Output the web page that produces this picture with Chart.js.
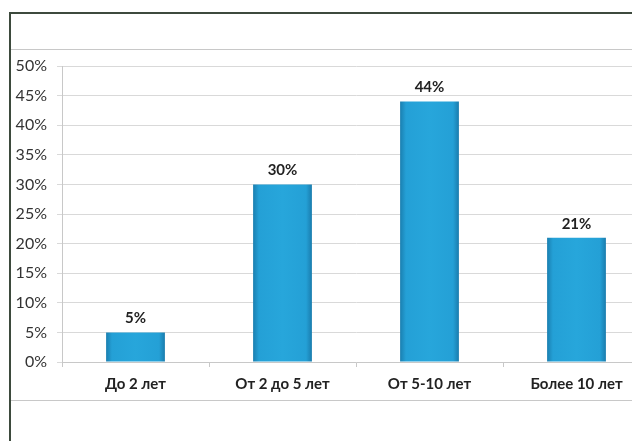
<!DOCTYPE html>
<html>
<head>
<meta charset="utf-8">
<script src="https://cdn.jsdelivr.net/npm/chart.js@4"></script>
<style>
  html, body { margin: 0; padding: 0; background: #fff; overflow: hidden; }
  #wrap { position: absolute; left: 0; top: 0; width: 660px; height: 441px; }
</style>
</head>
<body>
<div id="wrap"><canvas id="chart"></canvas></div>
<script>
// Стаж работы
var categories = ['До 2 лет', 'От 2 до 5 лет', 'От 5-10 лет', 'Более 10 лет'];
var values = [5, 30, 44, 21];
var yTicks = [0, 5, 10, 15, 20, 25, 30, 35, 40, 45, 50];

// рамка вокруг диаграммы
var framePlugin = {
    id: 'frame',
    beforeDraw: function(chart) {
        var ctx = chart.ctx;
        ctx.save();
        ctx.fillStyle = '#fff';
        ctx.fillRect(0, 0, chart.width, chart.height);
        ctx.lineWidth = 1;
        ctx.strokeStyle = '#c8c8c8';
        ctx.beginPath();
        ctx.moveTo(10, 49.5); ctx.lineTo(chart.width, 49.5);
        ctx.moveTo(10, 400.5); ctx.lineTo(chart.width, 400.5);
        ctx.stroke();
        ctx.lineWidth = 2;
        ctx.strokeStyle = '#3d4a3d';
        ctx.beginPath();
        ctx.moveTo(10, 13); ctx.lineTo(chart.width, 13);
        ctx.moveTo(10, 12); ctx.lineTo(10, chart.height);
        ctx.stroke();
        ctx.restore();
    }
};

// подписи значений над столбцами
var labelPlugin = {
    id: 'valueLabels',
    afterDatasetsDraw: function(chart) {
        var ctx = chart.ctx;
        var meta = chart.getDatasetMeta(0);
        ctx.save();
        ctx.font = 'bold 15px Lato';
        ctx.fillStyle = '#222';
        ctx.textAlign = 'center';
        ctx.textBaseline = 'middle';
        meta.data.forEach(function(bar, i) {
            ctx.fillText(values[i] + '%', bar.x, bar.y - 14);
        });
        ctx.restore();
    }
};

// градиент столбца по ширине
function barGradient(context) {
    var chart = context.chart;
    var xs = chart.scales && chart.scales.x;
    if (!xs || !xs.width) return '#23a0d6';
    var cx = xs.getPixelForValue(context.dataIndex);
    var w = xs.width / categories.length * 0.4;
    var g = chart.ctx.createLinearGradient(cx - w / 2, 0, cx + w / 2, 0);
    g.addColorStop(0, '#1a7fb0');
    g.addColorStop(0.1, '#24a0d6');
    g.addColorStop(0.5, '#27a6db');
    g.addColorStop(0.9, '#24a0d6');
    g.addColorStop(1, '#1a7cad');
    return g;
}

var chart = new Chart(document.getElementById('chart'), {
    type: 'bar',
    data: {
        labels: categories,
        datasets: [{
            data: values,
            backgroundColor: barGradient,
            borderWidth: 0,
            categoryPercentage: 1,
            barPercentage: 0.4
        }]
    },
    options: {
        responsive: true,
        maintainAspectRatio: false,
        animation: false,
        layout: { padding: { left: 12, right: 10, top: 66, bottom: 41 } },
        plugins: { legend: { display: false }, tooltip: { enabled: false } },
        scales: {
            x: {
                grid: { display: true, drawOnChartArea: false, color: '#c8c8c8', tickLength: 5 },
                border: { color: '#c8c8c8' },
                ticks: { color: '#222', font: { family: 'Lato', size: 15, weight: 'bold' }, padding: 8 },
                afterFit: function(scale) { scale.height = 38; }
            },
            y: {
                min: 0,
                max: 50,
                afterBuildTicks: function(scale) {
                    scale.ticks = yTicks.map(function(v) { return { value: v }; });
                },
                grid: { color: '#d9d9d9', tickLength: 5 },
                border: { color: '#c8c8c8' },
                ticks: {
                    color: '#333',
                    font: { family: 'Lato', size: 16 },
                    padding: 10,
                    callback: function(v) { return v + '%'; }
                },
                afterFit: function(scale) { scale.width = 50; }
            }
        }
    },
    plugins: [framePlugin, labelPlugin]
});
</script>
</body>
</html>
